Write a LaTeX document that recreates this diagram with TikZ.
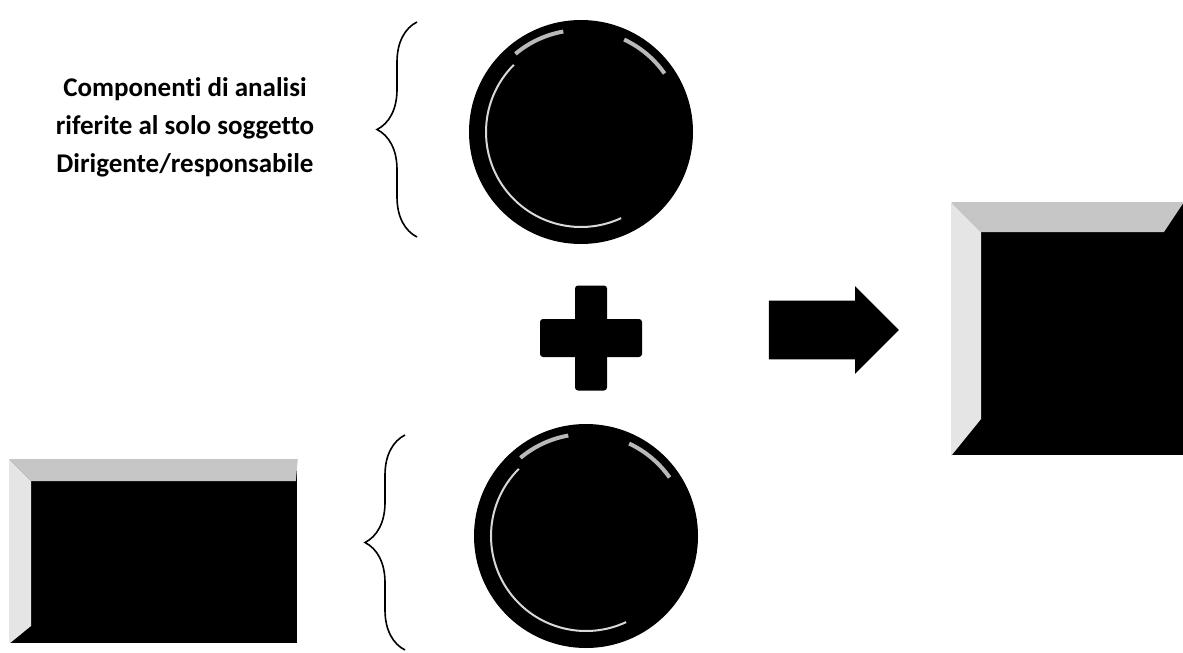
\documentclass[tikz,border=0pt]{standalone}
\usepackage{fontspec}
\setmainfont[Ligatures=NoCommon]{Carlito}
\usetikzlibrary{shapes,decorations.pathreplacing,calc}
\begin{document}
\begin{tikzpicture}[x=1pt,y=-1pt,line width=1.6pt,
  ball/.style={circle,fill=black,minimum size=224pt,inner sep=0pt},
  bar/.style={fill=black,rounded corners=3pt,inner sep=0pt},
  curly/.style={decorate,decoration={brace,amplitude=40pt}}]
\useasboundingbox (0,0) rectangle (1183,653);

\node[font=\bfseries\fontsize{27}{38}\selectfont,align=center] (txt) at (185,127)
  {Componenti di analisi\\riferite al solo soggetto\\Dirigente/responsabile};

% braces
\coordinate (brTopA) at (417,22);
\coordinate (brTopB) at (417,237);
\coordinate (brBotA) at (405,435);
\coordinate (brBotB) at (405,650);
\draw[curly] (brTopB) -- (brTopA);
\draw[curly] (brBotB) -- (brBotA);

% balls
\node[ball] (cTop) at (581,132) {};
\node[ball] (cBot) at (586,536) {};
\foreach \c in {cTop,cBot} {
  \draw[white!85!black,line width=2pt] (\c) ++(-135:95) arc[start angle=-135,end angle=-295,radius=95];
  \draw[gray!55,line width=4pt] (\c) ++(-100:102) arc[start angle=-100,end angle=-130,radius=102];
  \draw[gray!55,line width=4pt] (\c) ++(-35:102) arc[start angle=-35,end angle=-65,radius=102];
}

% plus and arrow
\node[bar,minimum width=102pt,minimum height=38pt] (plusH) at (591,338) {};
\node[bar,minimum width=32pt,minimum height=105pt] (plusV) at (591,338) {};
\node[single arrow,fill=black,inner xsep=0pt,inner ysep=28.5pt,minimum height=130pt,
  minimum width=86pt,single arrow head extend=14.5pt,anchor=west] (arrR) at (768,330) {};

% bevelled boxes
\node[fill=black,inner sep=0pt,minimum width=231pt,minimum height=252pt] (boxR) at (1067.5,329) {};
\fill[gray!45] (boxR.north west) -- (boxR.north east) -- ($(boxR.north east)+(-20,30)$)
  -- ($(boxR.north west)+(30,30)$) -- cycle;
\fill[gray!20] (boxR.north west) -- ($(boxR.north west)+(30,30)$)
  -- ($(boxR.south west)+(30,-37)$) -- (boxR.south west) -- cycle;

\node[fill=black,inner sep=0pt,minimum width=287pt,minimum height=183pt] (boxL) at (153.5,551.5) {};
\fill[gray!45] (boxL.north west) -- (boxL.north east) -- ($(boxL.north east)+(-2,22)$)
  -- ($(boxL.north west)+(22,22)$) -- cycle;
\fill[gray!20] (boxL.north west) -- ($(boxL.north west)+(22,22)$)
  -- ($(boxL.south west)+(22,-18)$) -- (boxL.south west) -- cycle;
\end{tikzpicture}
\end{document}
